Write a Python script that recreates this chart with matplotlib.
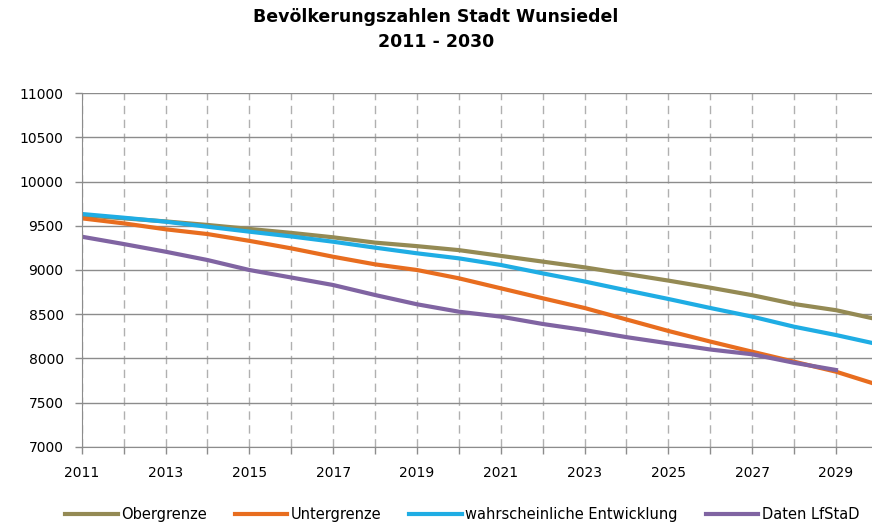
import matplotlib
matplotlib.use('Agg')
import matplotlib.pyplot as plt

years = list(range(2011, 2031))
obergrenze = [9620, 9585, 9550, 9510, 9465, 9420, 9370, 9310, 9270, 9225,
              9160, 9095, 9030, 8955, 8880, 8800, 8715, 8615, 8545, 8440]
untergrenze = [9585, 9528, 9461, 9407, 9330, 9245, 9150, 9064, 9000, 8906,
               8793, 8680, 8570, 8440, 8310, 8190, 8075, 7962, 7849, 7700]
wahrscheinlich = [9634, 9592, 9547, 9490, 9434, 9380, 9320, 9253, 9189, 9132,
                  9057, 8962, 8870, 8770, 8672, 8570, 8472, 8358, 8264, 8160]
lfstad_years = list(range(2011, 2030))
lfstad = [9377, 9294, 9207, 9113, 9000, 8915, 8830, 8717, 8612, 8528,
          8472, 8389, 8320, 8240, 8170, 8100, 8046, 7950, 7868]

fig = plt.figure(figsize=(8.72, 5.26), dpi=100)
ax = fig.add_axes([0.0937, 0.1508, 0.9063, 0.6718])

ax.plot(years, obergrenze, color='#948A54', lw=3, label='Obergrenze')
ax.plot(years, untergrenze, color='#E86D1F', lw=3, label='Untergrenze')
ax.plot(years, wahrscheinlich, color='#1FADE4', lw=3, label='wahrscheinliche Entwicklung')
ax.plot(lfstad_years, lfstad, color='#8064A2', lw=3, label='Daten LfStaD')

ax.set_xlim(2011, 2029.86)
ax.set_ylim(7000, 11000)
ax.set_yticks(range(7000, 11001, 500))
ax.set_xticks(range(2011, 2030, 2))
ax.set_xticks(range(2011, 2030), minor=True)

ax.grid(axis='y', color='#8c8c8c', lw=1, ls='-')
ax.grid(axis='x', which='both', color='#b0b0b0', lw=1, ls=(0, (6, 4)))
ax.set_axisbelow(True)

for s in ['top', 'right']:
    ax.spines[s].set_visible(False)
for s in ['left', 'bottom']:
    ax.spines[s].set_color('#8c8c8c')
ax.tick_params(which='both', direction='out', color='#8c8c8c', length=5, width=1)
ax.tick_params(axis='y', labelsize=10, pad=8)
ax.tick_params(axis='x', labelsize=10, pad=9)

fig.suptitle('Bevölkerungszahlen Stadt Wunsiedel\n2011 - 2030', y=0.985,
             fontsize=12.5, fontweight='bold', linespacing=1.5)

fig.legend(loc='lower center', bbox_to_anchor=(0.53, -0.018), ncol=4, frameon=False,
           fontsize=10.5, handlelength=3.6, handletextpad=0.25, columnspacing=1.9)

fig.savefig('out.png', dpi=100)
